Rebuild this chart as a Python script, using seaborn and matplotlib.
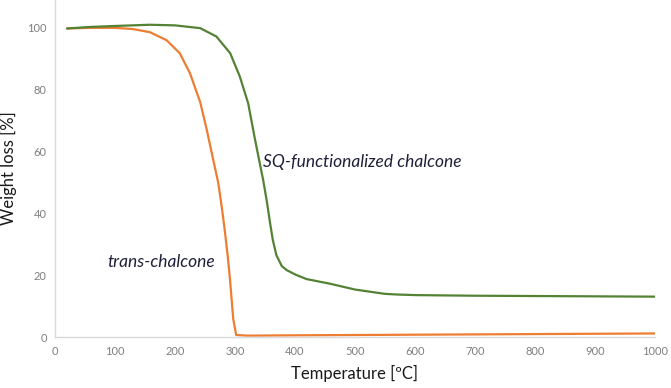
import numpy as np
import pandas as pd
import matplotlib
matplotlib.use("Agg")
import matplotlib.pyplot as plt
import seaborn as sns

# trans-chalcone
tc_temp = [20, 60, 100, 130, 158, 186, 208, 225, 242, 253, 263, 272, 278, 283, 288, 292, 297, 302, 320, 400, 500, 600, 700, 800, 900, 1000]
tc_wt = [99.8, 100.0, 100.0, 99.6, 98.6, 96.0, 91.8, 85.3, 76.0, 67.0, 58.0, 50.0, 42.0, 34.5, 26.0, 18.0, 6.0, 0.7, 0.5, 0.6, 0.7, 0.8, 0.9, 1.0, 1.1, 1.2]
# SQ-functionalized chalcone
sq_temp = [20, 60, 100, 158, 200, 242, 269, 292, 308, 322, 333, 340, 347, 353, 358, 363, 369, 378, 386, 400, 419, 442, 458, 480, 500, 525, 550, 569, 600, 700, 800, 900, 1000]
sq_wt = [99.8, 100.3, 100.6, 101.0, 100.8, 99.9, 97.2, 91.8, 84.3, 75.6, 64.3, 57.5, 50.8, 44.0, 37.5, 31.5, 26.5, 23.0, 21.7, 20.3, 18.8, 17.9, 17.3, 16.3, 15.4, 14.7, 14.0, 13.8, 13.6, 13.4, 13.3, 13.2, 13.1]

x_ticks = list(range(0, 1001, 100))
y_ticks = list(range(0, 101, 20))

sns.set_theme(style="white")
plt.rcParams['font.family'] = ['Lato', 'DejaVu Sans']

fig = plt.figure(figsize=(6.71, 3.88), dpi=100)
ax = fig.add_axes([0.082, 0.131, 0.894, 0.869])

sns.lineplot(x=tc_temp, y=tc_wt, ax=ax, color='#ED7D31', linewidth=1.6)
sns.lineplot(x=sq_temp, y=sq_wt, ax=ax, color='#548235', linewidth=1.6)

ax.set_xlim(0, 1000)
ax.set_ylim(0, 109)
ax.set_xticks(x_ticks)
ax.set_yticks(y_ticks)
ax.tick_params(axis='both', labelsize=8, labelcolor='#7f7f7f', length=0, pad=6)
for s in ['top', 'right']:
    ax.spines[s].set_visible(False)
for s in ['left', 'bottom']:
    ax.spines[s].set_color('#d9d9d9')
    ax.spines[s].set_linewidth(1)

ax.set_xlabel('Temperature [ºC]', fontsize=12, color='#1a1a1a', labelpad=6)
ax.set_ylabel('Weight loss [%]', fontsize=12, color='#1a1a1a', labelpad=7)

ax.text(347, 56.6, 'SQ-functionalized chalcone', fontsize=12.5, style='italic', color='#1f1f3a', va='center', ha='left')
ax.text(88, 24.3, 'trans-chalcone', fontsize=12.5, style='italic', color='#1f1f3a', va='center', ha='left')

fig.savefig('out.png', dpi=100)
